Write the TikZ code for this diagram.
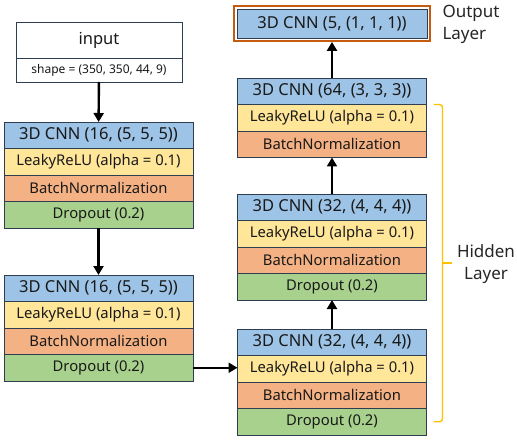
\documentclass[tikz,border=0pt]{standalone}
\usepackage{fontspec}
\setmainfont{Noto Sans}
\usetikzlibrary{calc, positioning, fit, arrows.meta}
\definecolor{cnnblue}{HTML}{9DC3E6}
\definecolor{reluyellow}{HTML}{FFE699}
\definecolor{bnorange}{HTML}{F4B183}
\definecolor{dropgreen}{HTML}{A9D18E}
\definecolor{edge}{HTML}{2E3D4F}
\definecolor{outedge}{HTML}{C55A11}
\definecolor{bracegold}{HTML}{FFC000}

\begin{document}
\begin{tikzpicture}[
        x=1pt, y=-1pt,
        row/.style={
            draw=edge, thick, outer sep=0pt, inner sep=0pt,
            minimum width=189pt, minimum height=26.5pt,
            text=black!90, font=\fontsize{14.8}{16}\selectfont
        },
        cnn/.style={row, fill=cnnblue, font=\fontsize{16.5}{18}\selectfont},
        relu/.style={row, fill=reluyellow},
        bn/.style={row, fill=bnorange},
        drop/.style={row, fill=dropgreen},
        inbox/.style={
            draw=edge, thick, fill=white, outer sep=0pt, inner sep=0pt,
            minimum width=166pt, text=black!90
        },
        arr/.style={draw, line width=2.4pt, -{Triangle[length=9pt, width=10pt]}},
        brace/.style={draw=bracegold, line width=1.4pt, rounded corners=3pt},
        tag/.style={font=\fontsize{17}{22}\selectfont, text=black!85}
    ]
    \useasboundingbox (0,0) rectangle (517,441);

    % Input
    \node[inbox, minimum height=36pt, font=\fontsize{16.5}{18}\selectfont] (input) at (99,40) {input};
    \node[inbox, minimum height=24pt, font=\fontsize{12}{13}\selectfont, below=0pt of input] (shape) {shape = (350, 350, 44, 9)};

    % Block A
    \node[cnn] (cnnA) at (98.5,135.25) {3D CNN (16, (5, 5, 5))};
    \node[relu, below=0pt of cnnA] (reluA) {LeakyReLU (alpha = 0.1)};
    \node[bn, below=0pt of reluA] (bnA) {BatchNormalization};
    \node[drop, below=0pt of bnA] (dropA) {Dropout (0.2)};

    % Block B
    \node[cnn] (cnnB) at (98.5,288.25) {3D CNN (16, (5, 5, 5))};
    \node[relu, below=0pt of cnnB] (reluB) {LeakyReLU (alpha = 0.1)};
    \node[bn, below=0pt of reluB] (bnB) {BatchNormalization};
    \node[drop, below=0pt of bnB] (dropB) {Dropout (0.2)};

    % Block E (bottom right)
    \node[cnn] (cnnE) at (332,342.25) {3D CNN (32, (4, 4, 4))};
    \node[relu, below=0pt of cnnE] (reluE) {LeakyReLU (alpha = 0.1)};
    \node[bn, below=0pt of reluE] (bnE) {BatchNormalization};
    \node[drop, below=0pt of bnE] (dropE) {Dropout (0.2)};

    % Block D
    \node[cnn] (cnnD) at (332,207.25) {3D CNN (32, (4, 4, 4))};
    \node[relu, below=0pt of cnnD] (reluD) {LeakyReLU (alpha = 0.1)};
    \node[bn, below=0pt of reluD] (bnD) {BatchNormalization};
    \node[drop, below=0pt of bnD] (dropD) {Dropout (0.2)};

    % Block C
    \node[cnn] (cnnC) at (332,91.25) {3D CNN (64, (3, 3, 3))};
    \node[relu, below=0pt of cnnC] (reluC) {LeakyReLU (alpha = 0.1)};
    \node[bn, below=0pt of reluC] (bnC) {BatchNormalization};

    % Output
    \node[cnn, minimum width=190pt, minimum height=29pt] (outcnn) at (332,23.5) {3D CNN (5, (1, 1, 1))};
    \node[draw=outedge, line width=1.8pt, fit=(outcnn), inner sep=3pt] (outframe) {};
    \node[tag, anchor=west, align=left] (outtag) at (439,24) {Output\\Layer};

    % Connectors
    \draw[arr] (shape) -- (cnnA);
    \draw[arr] (dropA) -- (cnnB);
    \draw[arr] (dropB.east) -- (dropB.east -| reluE.west);
    \draw[arr] (cnnE) -- (dropD);
    \draw[arr] (cnnD) -- (bnC);
    \draw[arr] (cnnC) -- (outframe);

    % Hidden layer brace
    \coordinate (bracetop) at ($(reluC.north east)+(7,0)$);
    \coordinate (bracebot) at ($(dropE.east)+(7,0)$);
    \draw[brace] (bracetop) -- ++(9,0) -- ($(bracebot)+(9,0)$) -- (bracebot);
    \draw[brace] ($(bracetop)!0.5!(bracebot)+(9,0)$) -- ++(9,0);
    \node[tag, align=center] (hidtag) at (486,264) {Hidden\\Layer};

\end{tikzpicture}
\end{document}
